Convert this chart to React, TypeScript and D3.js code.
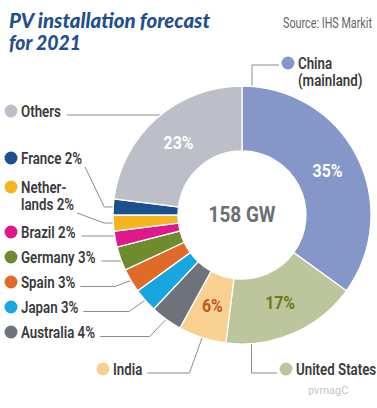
import React, { useEffect, useRef } from "react";
import * as d3 from "d3";

const categories = [
  "China (mainland)", "United States", "India", "Australia", "Japan", "Spain",
  "Germany", "Brazil", "Netherlands", "France", "Others",
];
const shares = [35, 17, 6, 4, 3, 3, 3, 2, 2, 2, 23];
const sliceColors = [
  "#8596c8", "#bcc59c", "#f8d08f", "#6d727b", "#18a6e0", "#e06a28",
  "#6e8b2e", "#df198b", "#f5b520", "#1b4f8d", "#bcbfc7",
];
const labelLines = [
  ["China", "(mainland)"], ["United States"], ["India"], ["Australia 4%"], ["Japan 3%"],
  ["Spain 3%"], ["Germany 3%"], ["Brazil 2%"], ["Nether-", "lands 2%"], ["France 2%"], ["Others"],
];
const insideLabels = ["35%", "17%", "6%", "", "", "", "", "", "", "", "23%"];
const insideLabelColors = ["#ffffff", "#6b7a22", "#c2561d", "", "", "", "", "", "", "", "#ffffff"];
const centerLabel = "158 GW";
const titleLines = ["PV installation forecast", "for 2021"];
const sourceText = "Source: IHS Markit";
const watermark = "pvmagC";

const FONT = "Roboto, 'DejaVu Sans', sans-serif";

export default function App() {
  const ref = useRef<SVGSVGElement>(null);
  useEffect(() => {
    const svg = d3.select(ref.current);
    svg.selectAll("*").remove();
    const W = 377, H = 408;
    const cx = 242, cy = 215, R = 129, r = 64;
    svg.append("rect").attr("width", W).attr("height", H).attr("fill", "#ffffff");

    const width = (sel: any) => (sel.node() as SVGTextElement).getComputedTextLength();
    const squeeze = (sel: any, f: number) => {
      const w = width(sel);
      sel.attr("textLength", w * f).attr("lengthAdjust", "spacingAndGlyphs");
      return w * f;
    };

    // title
    const titleTargets = [201, 72];
    titleLines.forEach((t, i) => {
      const tx = svg.append("text")
        .attr("x", 9).attr("y", 28 + i * 22)
        .attr("font-family", "Lato, 'Open Sans', sans-serif")
        .attr("font-style", "italic").attr("font-weight", 900)
        .attr("font-size", 20).attr("fill", "#1f4f8f").text(t);
      tx.attr("textLength", titleTargets[i]).attr("lengthAdjust", "spacingAndGlyphs");
    });
    const src = svg.append("text").attr("x", 283).attr("y", 28)
      .attr("font-family", FONT).attr("font-size", 14).attr("fill", "#666").text(sourceText);
    src.attr("textLength", 89).attr("lengthAdjust", "spacingAndGlyphs");

    const pie = d3.pie<number>().sort(null).value((d) => d);
    const arcs = pie(shares);
    const arc = d3.arc<d3.PieArcDatum<number>>().innerRadius(r).outerRadius(R);
    const pt = (a: number, rad: number): [number, number] => [cx + rad * Math.sin(a), cy - rad * Math.cos(a)];
    const circX = (y: number) => cx - Math.sqrt(R * R - (y - cy) * (y - cy));

    const labelFont = 17;
    const probe = svg.append("text").attr("font-family", FONT).attr("font-weight", 600)
      .attr("font-size", labelFont).text("Australia 4%");
    const legF = 74 / width(probe);
    probe.remove();

    const leftBase: Record<number, number> = { 3: 338, 4: 313, 5: 288, 6: 263, 7: 238, 8: 193, 9: 164, 10: 117 };
    const leaderKind: Record<number, string> = { 3: "hk", 4: "hk", 5: "hk", 6: "h", 7: "h", 8: "dk", 9: "dk", 10: "h" };
    const lines = svg.append("g").attr("fill", "none").attr("stroke", "#8c8c8c").attr("stroke-width", 1);
    const legend = svg.append("g");

    const drawLabel = (i: number, dotX: number, baseline: number, lh: number) => {
      legend.append("circle").attr("cx", dotX).attr("cy", baseline - 6).attr("r", 6.5).attr("fill", sliceColors[i]);
      let maxEnd = 0;
      labelLines[i].forEach((t, k) => {
        const tx = legend.append("text").attr("x", dotX + 10).attr("y", baseline + k * lh)
          .attr("font-family", FONT).attr("font-weight", 600)
          .attr("font-size", labelFont).attr("fill", "#3a3a3a").text(t);
        const w = squeeze(tx, legF);
        maxEnd = dotX + 10 + w;
      });
      return maxEnd;
    };

    Object.keys(leftBase).map(Number).forEach((i) => {
      const b = leftBase[i];
      const end = drawLabel(i, 11, b, 17);
      const a = arcs[i];
      const mid = (a.startAngle + a.endAngle) / 2;
      const P = pt(mid, R - 1);
      const kind = leaderKind[i];
      let pts: [number, number][] = [];
      if (kind === "h") {
        const y = b - 2;
        pts = [[end + 6, y], [circX(y) + 1, y]];
      } else if (kind === "dk") {
        const lastBase = b + (labelLines[i].length - 1) * 17;
        pts = [[end + 3, lastBase + 3], [P[0] - 10, P[1]], P];
      } else {
        const y = b - 1.5;
        pts = [[end + 5, y], [P[0] - 17, y], P];
      }
      lines.append("polyline").attr("points", pts.map((p) => p.join(",")).join(" "));
    });

    // India
    {
      const i = 2, b = 375;
      const end = drawLabel(i, 103, b, 17);
      const a = arcs[i];
      const P = pt((a.startAngle + a.endAngle) / 2, R - 1);
      const y = b - 2;
      lines.append("polyline").attr("points", [[end + 5, y], [P[0] - 13, y], P].map((p) => p.join(",")).join(" "));
    }
    // United States
    {
      const i = 1, b = 375;
      drawLabel(i, 286, b, 17);
      const a = arcs[i];
      const P = pt(a.endAngle - 0.2, R - 1);
      const y = b - 2;
      lines.append("polyline").attr("points", [P, [P[0], y], [277, y]].map((p) => p.join(",")).join(" "));
    }
    // China
    {
      const i = 0, b = 69;
      drawLabel(i, 288, b, 17);
      const a = arcs[i];
      const P = pt(a.startAngle + 0.078, R - 1);
      const y = 65;
      lines.append("polyline").attr("points", [P, [P[0], y], [279, y]].map((p) => p.join(",")).join(" "));
    }

    // donut
    const g = svg.append("g").attr("transform", `translate(${cx},${cy})`);
    g.selectAll("path").data(arcs).enter().append("path")
      .attr("d", arc).attr("fill", (_d, i) => sliceColors[i])
      .attr("stroke", "#ffffff").attr("stroke-width", 1.3);

    const labArc = d3.arc<d3.PieArcDatum<number>>().innerRadius(96).outerRadius(96);
    const pctProbe = svg.append("text").attr("font-family", FONT).attr("font-weight", 700)
      .attr("font-size", 18).text("35%");
    const pctF = 30 / width(pctProbe);
    pctProbe.remove();
    arcs.forEach((d, i) => {
      if (!insideLabels[i]) return;
      const [x, y] = labArc.centroid(d);
      const t = g.append("text").attr("x", x).attr("y", y + 6).attr("text-anchor", "middle")
        .attr("font-family", FONT).attr("font-weight", 700).attr("font-size", 18)
        .attr("fill", insideLabelColors[i]).text(insideLabels[i]);
      squeeze(t, pctF);
    });

    const ct = g.append("text").attr("y", 7).attr("text-anchor", "middle")
      .attr("font-family", FONT).attr("font-weight", 700)
      .attr("font-size", 22).attr("fill", "#6a6e76").text(centerLabel);
    ct.attr("textLength", 67).attr("lengthAdjust", "spacingAndGlyphs");

    svg.append("text").attr("x", 308).attr("y", 394)
      .attr("font-family", FONT).attr("font-size", 11).attr("fill", "#c4c4c4").text(watermark);
  }, []);
  return (
    <svg ref={ref} width={377} height={408}
      style={{ position: "absolute", left: 0, top: 0, display: "block" }} />
  );
}
